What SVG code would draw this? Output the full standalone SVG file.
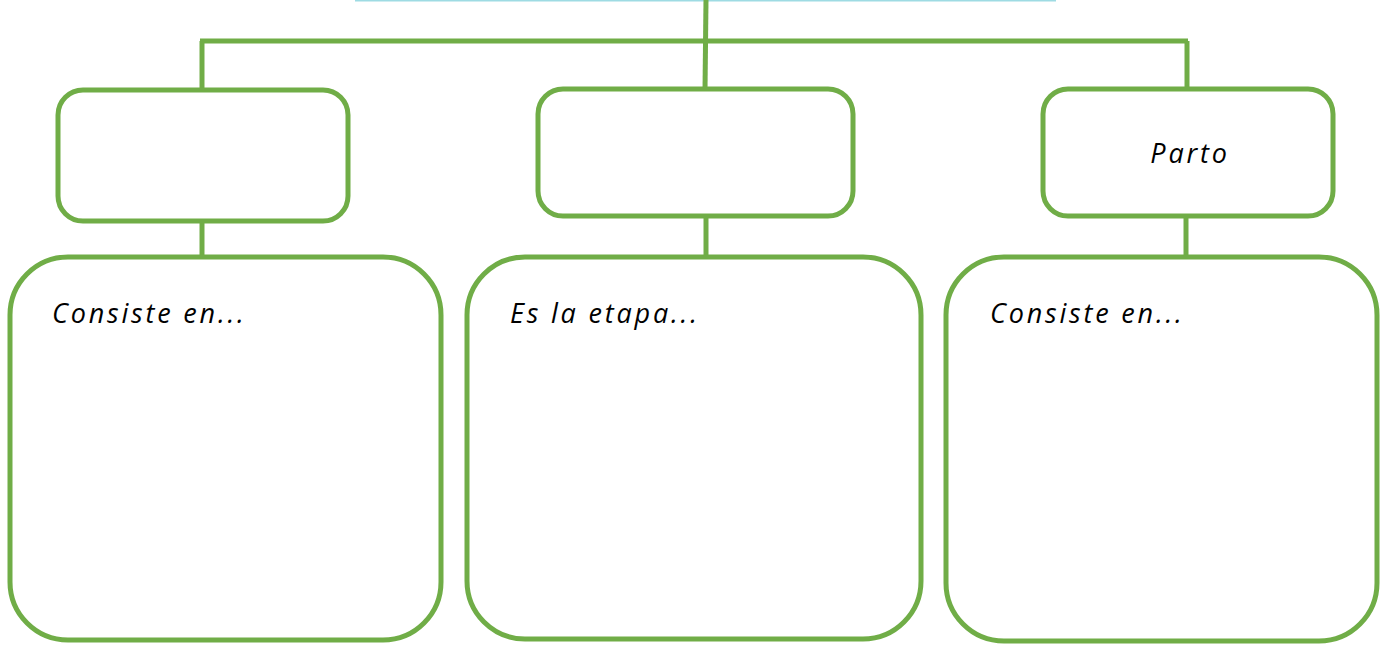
<svg xmlns="http://www.w3.org/2000/svg" width="1392" height="646" viewBox="0 0 1392 646">
<style>
.box{fill:#fff;stroke:#70ad47;stroke-width:5}
.ln{stroke:#70ad47;stroke-width:5;fill:none}
.t{font-family:"Open Sans","DejaVu Sans",sans-serif;font-style:italic;font-size:27px;fill:#000;letter-spacing:2.8px}
</style>
<rect width="1392" height="646" fill="#fff"/>
<line x1="355" y1="0" x2="1056" y2="0" stroke="#9edbe3" stroke-width="3"/>
<g id="connectors">
<line class="ln" x1="706" y1="0" x2="705" y2="90"/>
<line class="ln" x1="200" y1="41" x2="1188" y2="41"/>
<line class="ln" x1="202" y1="41" x2="202" y2="90"/>
<line class="ln" x1="1187" y1="41" x2="1187" y2="89"/>
<line class="ln" x1="202" y1="221" x2="202" y2="257"/>
<line class="ln" x1="706" y1="216" x2="706" y2="257"/>
<line class="ln" x1="1186" y1="216" x2="1186" y2="257"/>
</g>
<g id="node-top1"><rect class="box" x="58" y="90" width="290" height="131" rx="25"/></g>
<g id="node-top2"><rect class="box" x="538" y="89" width="315" height="127" rx="25"/></g>
<g id="node-top3"><rect class="box" x="1043" y="89" width="290" height="127" rx="25"/>
<text class="t" x="1190" y="163" text-anchor="middle">Parto</text></g>
<g id="node-bot1"><rect class="box" x="10" y="257" width="431" height="383" rx="58"/>
<text class="t" x="52" y="323">Consiste en...</text></g>
<g id="node-bot2"><rect class="box" x="467" y="257" width="454" height="382" rx="58"/>
<text class="t" x="510" y="323">Es la etapa...</text></g>
<g id="node-bot3"><rect class="box" x="946" y="257" width="431" height="384" rx="58"/>
<text class="t" x="990" y="323">Consiste en...</text></g>
</svg>
